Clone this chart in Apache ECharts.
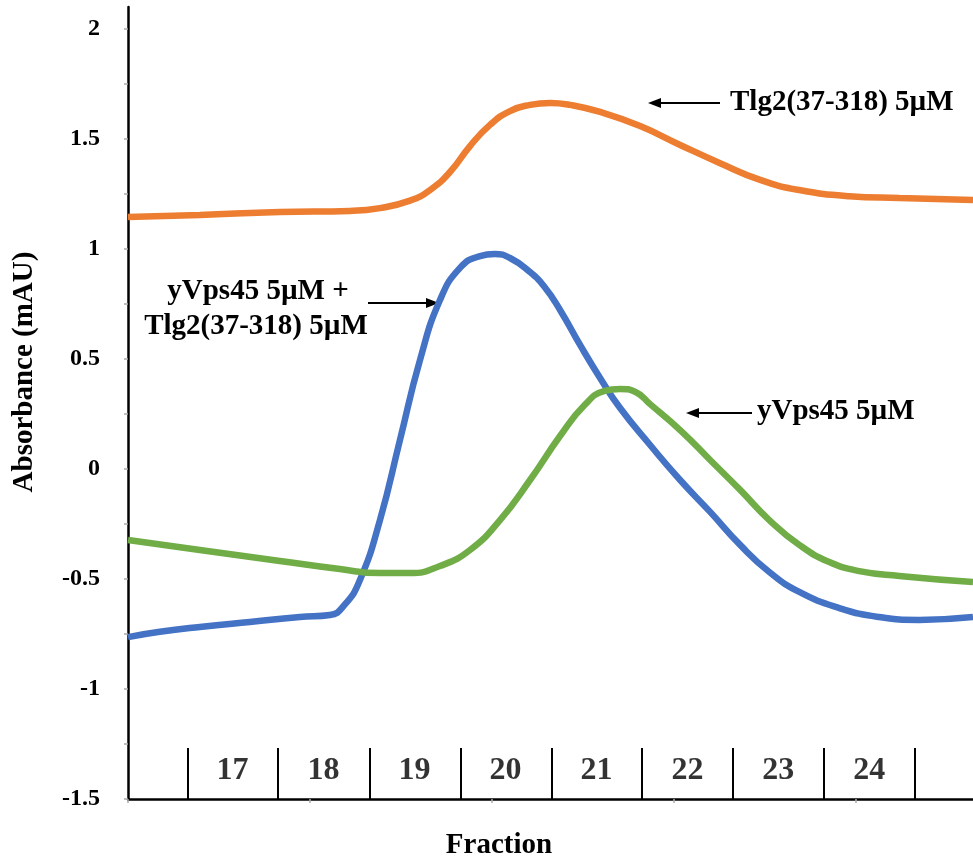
<!DOCTYPE html>
<html>
<head>
<meta charset="utf-8">
<script src="https://cdn.jsdelivr.net/npm/echarts@6/dist/echarts.min.js"></script>
<style>
  html, body { margin: 0; padding: 0; background: #fff; }
  #chart { width: 973px; height: 864px; }
</style>
</head>
<body>
<div id="chart"></div>
<script>
// x = elution position in fraction widths, 0 at the y axis
var tlg2X = [0, 0.79, 1.67, 2.44, 2.77, 3.10, 3.32, 3.54, 3.76, 3.98, 4.20, 4.42, 4.64, 4.86, 5.19, 5.63, 6.07, 6.51, 6.95, 7.38, 7.93, 8.48, 9.29]
var tlg2Y = [1.145, 1.155, 1.168, 1.173, 1.186, 1.22, 1.268, 1.35, 1.468, 1.564, 1.627, 1.655, 1.664, 1.655, 1.623, 1.559, 1.473, 1.39, 1.314, 1.268, 1.24, 1.232, 1.223]

var complexX = [0, 0.35, 0.79, 1.34, 1.89, 2.22, 2.38, 2.55, 2.77, 2.99, 3.21, 3.43, 3.65, 3.87, 4.03, 4.20, 4.42, 4.58, 4.75, 4.97, 5.19, 5.41, 5.74, 6.07, 6.40, 6.73, 7.05, 7.38, 7.82, 8.26, 8.70, 9.29]
var complexY = [-0.764, -0.74, -0.718, -0.695, -0.673, -0.664, -0.618, -0.505, -0.232, 0.132, 0.495, 0.768, 0.914, 0.968, 0.977, 0.959, 0.895, 0.827, 0.723, 0.564, 0.414, 0.277, 0.109, -0.05, -0.195, -0.345, -0.468, -0.559, -0.632, -0.673, -0.686, -0.673]

var vps45X = [0, 0.79, 1.67, 2.33, 2.77, 3.10, 3.43, 3.76, 4.09, 4.42, 4.75, 5.02, 5.24, 5.41, 5.58, 5.74, 6.07, 6.40, 6.73, 7.05, 7.38, 7.71, 8.04, 8.48, 9.29]
var vps45Y = [-0.323, -0.368, -0.418, -0.455, -0.473, -0.473, -0.441, -0.368, -0.232, -0.05, 0.15, 0.291, 0.355, 0.364, 0.35, 0.295, 0.177, 0.041, -0.095, -0.232, -0.345, -0.423, -0.464, -0.486, -0.514]

// fraction boxes along the bottom
var fractions = ['17', '18', '19', '20', '21', '22', '23', '24']
var fractionCenter = [1.15, 2.15, 3.15, 4.15, 5.15, 6.15, 7.15, 8.15]
var dividerX = [0.66, 1.65, 2.66, 3.66, 4.66, 5.65, 6.65, 7.65, 8.65]

var yTicks = [-1.5, -1.25, -1, -0.75, -0.5, -0.25, 0, 0.25, 0.5, 0.75, 1, 1.25, 1.5, 1.75, 2]
var yLabels = [-1.5, -1, -0.5, 0, 0.5, 1, 1.5, 2]

var SERIF = '"Liberation Serif", "Times New Roman", serif'

function zip(xs, ys) {
  return xs.map(function(x, i) { return [x, ys[i]] })
}

var chart = echarts.init(document.getElementById('chart'))

function arrow(x1, x2, y) {
  var dir = x2 > x1 ? 1 : -1
  return [
    { type: 'line', shape: { x1: x1, y1: y, x2: x2 - dir * 8, y2: y }, style: { stroke: '#000', lineWidth: 2 } },
    { type: 'polygon', shape: { points: [[x2, y], [x2 - dir * 13, y - 5], [x2 - dir * 13, y + 5]] }, style: { fill: '#000' } }
  ]
}

function label(text, x, y, align) {
  return {
    type: 'text', x: x, y: y,
    style: { text: text, font: 'bold 29px ' + SERIF, fill: '#000', textAlign: align || 'left', textVerticalAlign: 'middle' }
  }
}

var lineStyle = function(color) {
  return { type: 'line', smooth: 0.5, showSymbol: false, symbol: 'none', lineStyle: { color: color, width: 6.5 }, itemStyle: { color: color }, z: 3 }
}

chart.setOption({
  animation: false,
  grid: { left: 128, right: 0, top: 7, bottom: 65, containLabel: false, outerBoundsMode: 'none' },
  xAxis: {
    type: 'value',
    min: 0,
    max: 9.29,
    interval: 2,
    splitLine: { show: false },
    axisLine: { onZero: false, lineStyle: { color: '#000', width: 2.5 } },
    axisTick: { show: true, length: 4, customValues: [0, 2, 4, 6, 8], lineStyle: { color: '#aaa', width: 1.5 } },
    axisLabel: { show: false }
  },
  yAxis: {
    type: 'value',
    min: -1.5,
    max: 2.1,
    interval: 0.5,
    splitLine: { show: false },
    axisLine: { show: true, onZero: false, lineStyle: { color: '#000', width: 2.5 } },
    axisTick: { show: true, length: 4, customValues: yTicks, lineStyle: { color: '#aaa', width: 1.5 } },
    axisLabel: {
      customValues: yLabels,
      margin: 28,
      color: '#000',
      fontFamily: SERIF,
      fontWeight: 'bold',
      fontSize: 24
    }
  },
  series: [
    Object.assign(lineStyle('#ED7D31'), { name: 'Tlg2(37-318) 5µM', data: zip(tlg2X, tlg2Y) }),
    Object.assign(lineStyle('#4472C4'), { name: 'yVps45 5µM + Tlg2(37-318) 5µM', data: zip(complexX, complexY) }),
    Object.assign(lineStyle('#70AD47'), { name: 'yVps45 5µM', data: zip(vps45X, vps45Y) }),
    {
      name: 'fractions',
      type: 'scatter',
      symbolSize: 0,
      silent: true,
      data: fractions.map(function(f, i) { return [fractionCenter[i], -1.37, f] }),
      label: {
        show: true,
        position: 'inside',
        formatter: function(p) { return p.value[2] },
        color: '#000',
        textBorderWidth: 0,
        fontFamily: SERIF,
        fontWeight: 'bold',
        fontSize: 32
      },
      markLine: {
        silent: true,
        symbol: 'none',
        label: { show: false },
        lineStyle: { color: '#000', width: 2, type: 'solid' },
        data: dividerX.map(function(x) { return [{ coord: [x, -1.5] }, { coord: [x, -1.268] }] })
      }
    }
  ],
  graphic: [].concat(
    arrow(720, 648, 103),
    [label('Tlg2(37-318) 5µM', 730, 103)],
    arrow(368, 439, 303),
    [label('yVps45 5µM +', 258, 292, 'center'), label('Tlg2(37-318) 5µM', 256, 327, 'center')],
    arrow(752, 686, 413),
    [label('yVps45 5µM', 757, 412)],
    [
      {
        type: 'text', x: 25, y: 372, rotation: Math.PI / 2,
        style: { text: 'Absorbance (mAU)', font: 'bold 29px ' + SERIF, fill: '#000', textAlign: 'center', textVerticalAlign: 'middle' }
      },
      {
        type: 'text', x: 499, y: 846,
        style: { text: 'Fraction', font: 'bold 29px ' + SERIF, fill: '#000', textAlign: 'center', textVerticalAlign: 'middle' }
      }
    ]
  )
})
</script>
</body>
</html>
